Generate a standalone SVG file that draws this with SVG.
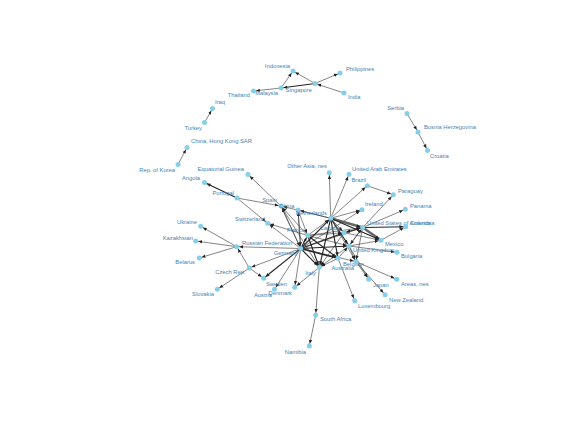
<svg xmlns="http://www.w3.org/2000/svg" width="576" height="432" viewBox="0 0 576 432">
<defs>
<marker id="ah" markerUnits="userSpaceOnUse" markerWidth="8" markerHeight="6" refX="6.3" refY="3" orient="auto"><path d="M0,1.3 L3.8,3 L0,4.7 z" fill="#222"/></marker>
<style>
.e{stroke:#333;stroke-width:0.6;fill:none;marker-end:url(#ah)}
.t{stroke-width:1.1;stroke:#222}
.b{stroke:#666;stroke-width:2.6}
.n circle{fill:#87CEEB}
.n text{font-family:"Liberation Sans",Arial,sans-serif;font-size:5.8px;fill:#4682B4}
.n text.l{text-anchor:end}
</style>
</defs>
<rect width="576" height="432" fill="#fff"/>
<g id="edges">
<line class="e" x1="315" y1="83.5" x2="293" y2="71"/>
<line class="e" x1="281" y1="88" x2="293" y2="71"/>
<line class="e" x1="315" y1="83.5" x2="340" y2="73"/>
<line class="e t" x1="315" y1="83.5" x2="281" y2="88"/>
<line class="e" x1="281" y1="88" x2="253.5" y2="91"/>
<line class="e" x1="344" y1="93" x2="315" y2="83.5"/>
<line class="e" x1="204.5" y1="122.5" x2="212.5" y2="108.5"/>
<line class="e" x1="178" y1="164.5" x2="187" y2="147.5"/>
<line class="e" x1="407" y1="113.5" x2="418" y2="132"/>
<line class="e" x1="418" y1="132" x2="427.5" y2="150.5"/>
<line class="e t" x1="237" y1="198" x2="204.5" y2="182.5"/>
<line class="e" x1="281" y1="206" x2="248" y2="174.5"/>
<line class="e" x1="237" y1="198" x2="281" y2="206"/>
<line class="e" x1="237" y1="198" x2="267.7" y2="223.3"/>
<line class="e" x1="236.7" y1="246.7" x2="200.7" y2="226.3"/>
<line class="e" x1="236.7" y1="246.7" x2="195.7" y2="241"/>
<line class="e" x1="236.7" y1="246.7" x2="199.3" y2="258"/>
<line class="e" x1="249.3" y1="268" x2="236.7" y2="246.7"/>
<line class="e" x1="300.7" y1="248.5" x2="236.7" y2="246.7"/>
<line class="e" x1="249.3" y1="268" x2="217.3" y2="289.3"/>
<line class="e" x1="249.3" y1="268" x2="263.7" y2="278.3"/>
<line class="e" x1="300.7" y1="248.5" x2="249.3" y2="268"/>
<line class="e t" x1="300.7" y1="248.5" x2="263.7" y2="278.3"/>
<line class="e" x1="300.7" y1="248.5" x2="274.5" y2="289.3"/>
<line class="e" x1="300.7" y1="248.5" x2="294.7" y2="287.3"/>
<line class="e" x1="319.3" y1="267.3" x2="294.7" y2="287.3"/>
<line class="e" x1="300.7" y1="248.5" x2="267.7" y2="223.3"/>
<line class="e" x1="307.7" y1="235.5" x2="267.7" y2="223.3"/>
<line class="e" x1="300.7" y1="248.5" x2="281" y2="206"/>
<line class="e" x1="307.7" y1="235.5" x2="281" y2="206"/>
<line class="e" x1="330.7" y1="218.3" x2="281" y2="206"/>
<line class="e" x1="300.7" y1="248.5" x2="298" y2="210"/>
<line class="e" x1="330.7" y1="218.3" x2="298" y2="210"/>
<line class="e" x1="281" y1="206" x2="319.3" y2="267.3"/>
<line class="e" x1="298" y1="210" x2="307.7" y2="235.5"/>
<line class="e" x1="330.7" y1="218.3" x2="329.3" y2="172.7"/>
<line class="e" x1="330.7" y1="218.3" x2="349" y2="174.3"/>
<line class="e" x1="330.7" y1="218.3" x2="367.3" y2="185.7"/>
<line class="e" x1="367.3" y1="185.7" x2="393.3" y2="194.7"/>
<line class="e" x1="362.7" y1="227.5" x2="393.3" y2="194.7"/>
<line class="e" x1="362.7" y1="227.5" x2="405.3" y2="209.3"/>
<line class="e" x1="330.7" y1="218.3" x2="362" y2="209.7"/>
<line class="e" x1="300.7" y1="248.5" x2="362" y2="209.7"/>
<line class="e b" x1="330.7" y1="218.3" x2="362.7" y2="227.5"/>
<line class="e b" x1="362.7" y1="227.5" x2="381" y2="240.3"/>
<line class="e t" x1="330.7" y1="218.3" x2="381" y2="240.3"/>
<line class="e t" x1="362.7" y1="227.5" x2="405.7" y2="226.7"/>
<line class="e" x1="381" y1="240.3" x2="405.7" y2="226.7"/>
<line class="e" x1="349" y1="246" x2="397" y2="252.3"/>
<line class="e t" x1="300.7" y1="248.5" x2="330.7" y2="218.3"/>
<line class="e t" x1="300.7" y1="248.5" x2="307.7" y2="235.5"/>
<line class="e t" x1="300.7" y1="248.5" x2="344" y2="232.7"/>
<line class="e" x1="300.7" y1="248.5" x2="362.7" y2="227.5"/>
<line class="e t" x1="300.7" y1="248.5" x2="349" y2="246"/>
<line class="e t" x1="300.7" y1="248.5" x2="338" y2="258.3" style="stroke-width:1.6"/>
<line class="e t" x1="300.7" y1="248.5" x2="319.3" y2="267.3"/>
<line class="e" x1="300.7" y1="248.5" x2="356" y2="261.7"/>
<line class="e" x1="307.7" y1="235.5" x2="330.7" y2="218.3"/>
<line class="e t" x1="307.7" y1="235.5" x2="338" y2="258.3"/>
<line class="e" x1="307.7" y1="235.5" x2="349" y2="246"/>
<line class="e t" x1="307.7" y1="235.5" x2="319.3" y2="267.3"/>
<line class="e" x1="307.7" y1="235.5" x2="362.7" y2="227.5"/>
<line class="e" x1="307.7" y1="235.5" x2="344" y2="232.7"/>
<line class="e t" x1="330.7" y1="218.3" x2="338" y2="258.3"/>
<line class="e t" x1="330.7" y1="218.3" x2="349" y2="246"/>
<line class="e t" x1="330.7" y1="218.3" x2="319.3" y2="267.3"/>
<line class="e" x1="330.7" y1="218.3" x2="344" y2="232.7"/>
<line class="e" x1="330.7" y1="218.3" x2="356" y2="261.7"/>
<line class="e" x1="349" y1="246" x2="319.3" y2="267.3"/>
<line class="e" x1="349" y1="246" x2="356" y2="261.7"/>
<line class="e" x1="349" y1="246" x2="362.7" y2="227.5"/>
<line class="e t" x1="362.7" y1="227.5" x2="344" y2="232.7"/>
<line class="e" x1="362.7" y1="227.5" x2="349" y2="246"/>
<line class="e" x1="338" y1="258.3" x2="319.3" y2="267.3"/>
<line class="e" x1="338" y1="258.3" x2="354.7" y2="300.7"/>
<line class="e" x1="338" y1="258.3" x2="349" y2="246"/>
<line class="e" x1="344" y1="232.7" x2="319.3" y2="267.3"/>
<line class="e" x1="344" y1="232.7" x2="381" y2="240.3"/>
<line class="e" x1="349" y1="246" x2="381" y2="240.3"/>
<line class="e" x1="319.3" y1="267.3" x2="315.7" y2="315"/>
<line class="e" x1="315.7" y1="315" x2="309.3" y2="346"/>
<line class="e" x1="356" y1="261.7" x2="368.7" y2="279.3"/>
<line class="e" x1="356" y1="261.7" x2="396.7" y2="279.3"/>
<line class="e" x1="356" y1="261.7" x2="385" y2="294.7"/>
<line class="e" x1="349" y1="246" x2="368.7" y2="279.3"/>
<line class="e" x1="362.7" y1="227.5" x2="356" y2="261.7"/>
<line class="e" x1="298" y1="210" x2="300.7" y2="248.5"/>
<line class="e" x1="281" y1="206" x2="300.7" y2="248.5"/>
</g>
<g id="n-indonesia" class="n"><circle cx="293" cy="71" r="2.5"/><text class="l" x="290" y="67.5">Indonesia</text></g>
<g id="n-philippines" class="n"><circle cx="340" cy="73" r="2.5"/><text x="346" y="71">Philippines</text></g>
<g id="n-singapore" class="n"><circle cx="315" cy="83.5" r="2.5"/><text class="l" x="312" y="91.5">Singapore</text></g>
<g id="n-malaysia" class="n"><circle cx="281" cy="88" r="2.5"/><text class="l" x="278" y="95">Malaysia</text></g>
<g id="n-thailand" class="n"><circle cx="253.5" cy="91" r="2.5"/><text class="l" x="250" y="97">Thailand</text></g>
<g id="n-india" class="n"><circle cx="344" cy="93" r="2.5"/><text x="348" y="99">India</text></g>
<g id="n-iraq" class="n"><circle cx="212.5" cy="108.5" r="2.5"/><text x="215" y="104">Iraq</text></g>
<g id="n-turkey" class="n"><circle cx="204.5" cy="122.5" r="2.5"/><text class="l" x="202" y="130">Turkey</text></g>
<g id="n-hongkong" class="n"><circle cx="187" cy="147.5" r="2.5"/><text x="191" y="143">China, Hong Kong SAR</text></g>
<g id="n-korea" class="n"><circle cx="178" cy="164.5" r="2.5"/><text class="l" x="175" y="172">Rep. of Korea</text></g>
<g id="n-serbia" class="n"><circle cx="407" cy="113.5" r="2.5"/><text class="l" x="404" y="110">Serbia</text></g>
<g id="n-bosnia" class="n"><circle cx="418" cy="132" r="2.5"/><text x="424" y="129">Bosnia Herzegovina</text></g>
<g id="n-croatia" class="n"><circle cx="427.5" cy="150.5" r="2.5"/><text x="430" y="158">Croatia</text></g>
<g id="n-eqguinea" class="n"><circle cx="248" cy="174.5" r="2.5"/><text class="l" x="244" y="171">Equatorial Guinea</text></g>
<g id="n-angola" class="n"><circle cx="204.5" cy="182.5" r="2.5"/><text class="l" x="200" y="180">Angola</text></g>
<g id="n-portugal" class="n"><circle cx="237" cy="198" r="2.5"/><text class="l" x="234" y="195">Portugal</text></g>
<g id="n-spain" class="n"><circle cx="281" cy="206" r="2.5"/><text class="l" x="277" y="202">Spain</text></g>
<g id="n-china" class="n"><circle cx="298" cy="210" r="2.5"/><text class="l" x="294.5" y="208">China</text></g>
<g id="n-netherlands" class="n"><circle cx="330.7" cy="218.3" r="2.5"/><text class="l" x="327" y="215">Netherlands</text></g>
<g id="n-otherasia" class="n"><circle cx="329.3" cy="172.7" r="2.5"/><text class="l" x="327" y="168">Other Asia, nes</text></g>
<g id="n-uae" class="n"><circle cx="349" cy="174.3" r="2.5"/><text x="352" y="171">United Arab Emirates</text></g>
<g id="n-brazil" class="n"><circle cx="367.3" cy="185.7" r="2.5"/><text class="l" x="366" y="182">Brazil</text></g>
<g id="n-paraguay" class="n"><circle cx="393.3" cy="194.7" r="2.5"/><text x="398" y="193">Paraguay</text></g>
<g id="n-ireland" class="n"><circle cx="362" cy="209.7" r="2.5"/><text x="365" y="206">Ireland</text></g>
<g id="n-panama" class="n"><circle cx="405.3" cy="209.3" r="2.5"/><text x="410" y="208">Panama</text></g>
<g id="n-usa" class="n"><circle cx="362.7" cy="227.5" r="2.5"/><text x="367" y="224.5">United States of America</text></g>
<g id="n-colombia" class="n"><circle cx="405.7" cy="226.7" r="2.5"/><text x="410" y="224.5">Colombia</text></g>
<g id="n-canada" class="n"><circle cx="344" cy="232.7" r="2.5"/><text class="l" x="340" y="230">Canada</text></g>
<g id="n-france" class="n"><circle cx="307.7" cy="235.5" r="2.5"/><text class="l" x="305" y="232">France</text></g>
<g id="n-mexico" class="n"><circle cx="381" cy="240.3" r="2.5"/><text x="385" y="246">Mexico</text></g>
<g id="n-uk" class="n"><circle cx="349" cy="246" r="2.5"/><text x="353" y="251.7">United Kingdom</text></g>
<g id="n-bulgaria" class="n"><circle cx="397" cy="252.3" r="2.5"/><text x="401" y="258">Bulgaria</text></g>
<g id="n-germany" class="n"><circle cx="300.7" cy="248.5" r="2.5"/><text class="l" x="297.5" y="255">Germany</text></g>
<g id="n-russia" class="n"><circle cx="236.7" cy="246.7" r="2.5"/><text x="242" y="245">Russian Federation</text></g>
<g id="n-kazakhstan" class="n"><circle cx="195.7" cy="241" r="2.5"/><text class="l" x="193" y="240">Kazakhstan</text></g>
<g id="n-belarus" class="n"><circle cx="199.3" cy="258" r="2.5"/><text class="l" x="195" y="264">Belarus</text></g>
<g id="n-ukraine" class="n"><circle cx="200.7" cy="226.3" r="2.5"/><text class="l" x="197" y="224">Ukraine</text></g>
<g id="n-switzerland" class="n"><circle cx="267.7" cy="223.3" r="2.5"/><text class="l" x="265" y="221">Switzerland</text></g>
<g id="n-czech" class="n"><circle cx="249.3" cy="268" r="2.5"/><text class="l" x="245.5" y="274">Czech Rep.</text></g>
<g id="n-slovakia" class="n"><circle cx="217.3" cy="289.3" r="2.5"/><text class="l" x="214" y="296">Slovakia</text></g>
<g id="n-sweden" class="n"><circle cx="263.7" cy="278.3" r="2.5"/><text x="266" y="286">Sweden</text></g>
<g id="n-austria" class="n"><circle cx="274.5" cy="289.3" r="2.5"/><text class="l" x="272" y="297">Austria</text></g>
<g id="n-denmark" class="n"><circle cx="294.7" cy="287.3" r="2.5"/><text class="l" x="292" y="294.5">Denmark</text></g>
<g id="n-italy" class="n"><circle cx="319.3" cy="267.3" r="2.5"/><text class="l" x="316" y="275">Italy</text></g>
<g id="n-belgium" class="n"><circle cx="338" cy="258.3" r="2.5"/><text x="343" y="266">Belgium</text></g>
<g id="n-australia" class="n"><circle cx="356" cy="261.7" r="2.5"/><text class="l" x="354" y="270">Australia</text></g>
<g id="n-japan" class="n"><circle cx="368.7" cy="279.3" r="2.5"/><text x="373" y="287">Japan</text></g>
<g id="n-areasnes" class="n"><circle cx="396.7" cy="279.3" r="2.5"/><text x="401" y="286">Areas, nes</text></g>
<g id="n-newzealand" class="n"><circle cx="385" cy="294.7" r="2.5"/><text x="389" y="302">New Zealand</text></g>
<g id="n-luxembourg" class="n"><circle cx="354.7" cy="300.7" r="2.5"/><text x="358" y="308">Luxembourg</text></g>
<g id="n-southafrica" class="n"><circle cx="315.7" cy="315" r="2.5"/><text x="320" y="321">South Africa</text></g>
<g id="n-namibia" class="n"><circle cx="309.3" cy="346" r="2.5"/><text class="l" x="306" y="354">Namibia</text></g>
</svg>
